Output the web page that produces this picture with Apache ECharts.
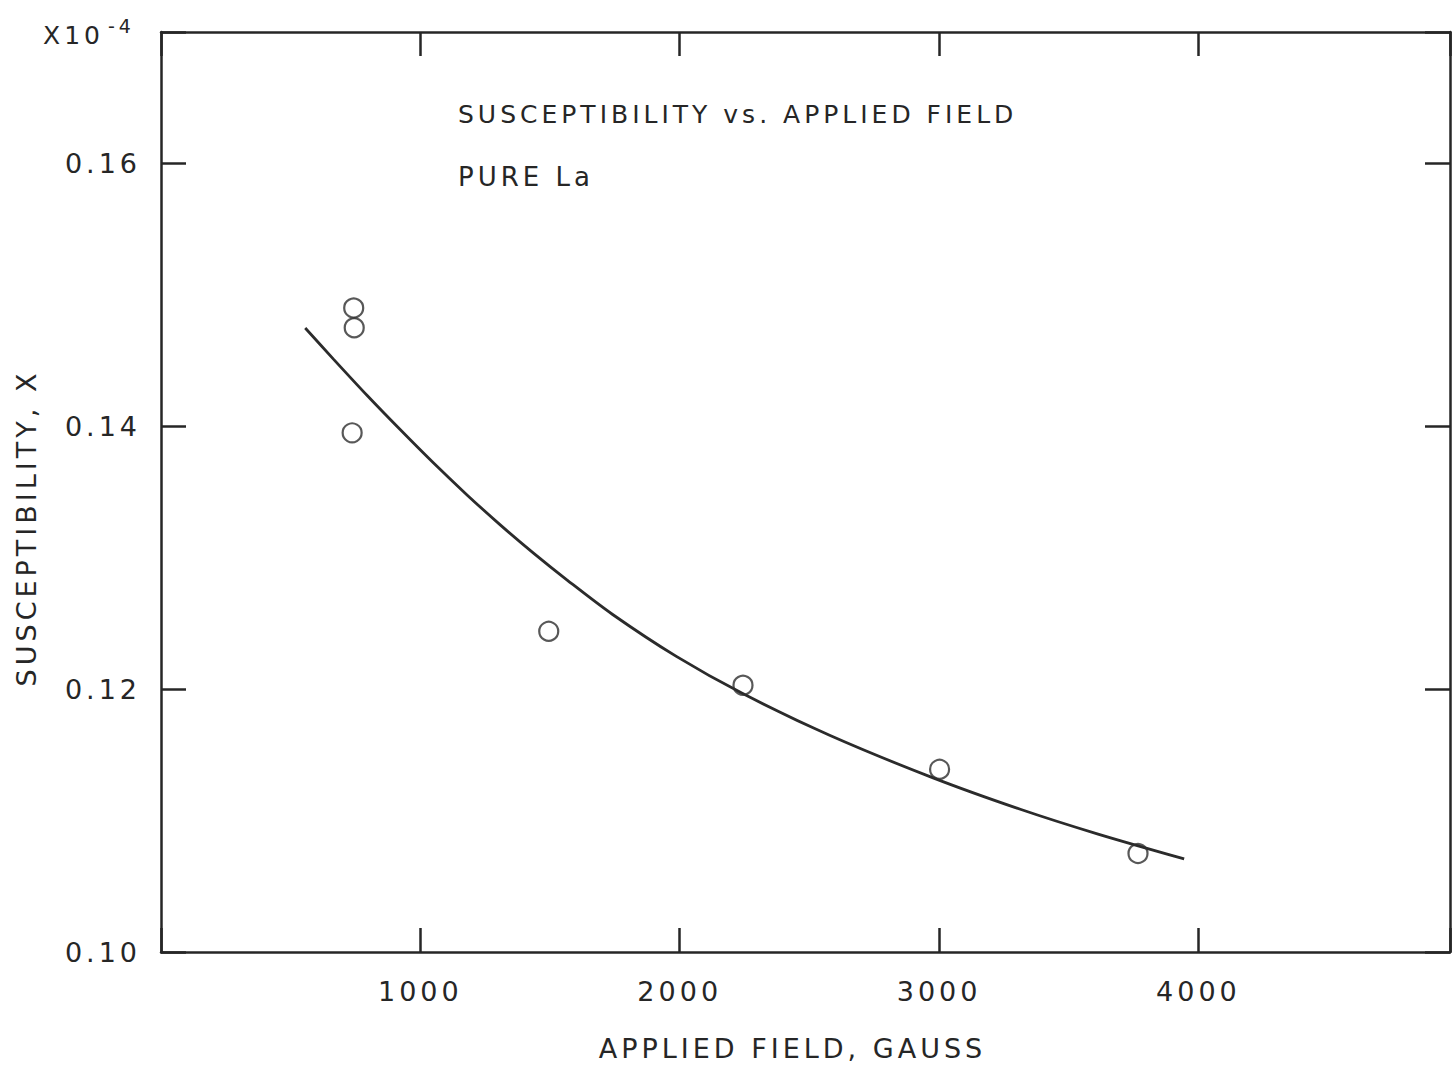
<!DOCTYPE html>
<html>
<head>
<meta charset="utf-8">
<title>Susceptibility vs. Applied Field</title>
<script src="https://cdn.jsdelivr.net/npm/echarts@6/dist/echarts.min.js"></script>
<style>
  html, body { margin: 0; padding: 0; background: #fff; }
  #chart { width: 1455px; height: 1072px; }
  /* lettering-guide look: spaced out capitals */
  #chart text { letter-spacing: 4px; }
</style>
</head>
<body>
<div id="chart"></div>
<script>
// measured points (field in gauss, susceptibility in units of 1e-4)
var fieldPts = [743, 745, 737, 1495, 2244, 3002, 3767];
var chiPts = [0.1490, 0.1475, 0.1395, 0.1244, 0.1203, 0.1139, 0.1075];

// hand drawn fit curve
var curveField = [556, 664, 795, 923, 1050, 1181, 1308, 1435, 1566, 1740, 1987, 2241, 2580, 2977, 3316, 3613, 3945];
var curveChi = [0.14748, 0.14513, 0.14234, 0.13973, 0.13722, 0.13476, 0.13250, 0.13037, 0.12830, 0.12570, 0.12249, 0.11968, 0.11647, 0.11325, 0.11084, 0.10897, 0.10708];

var xTicks = [1000, 2000, 3000, 4000];
var yTicks = ['0.10', '0.12', '0.14', '0.16'];

var ink = '#262626';
var font = 'DejaVu Sans';

var chart = echarts.init(document.getElementById('chart'), null, { renderer: 'svg' });

function xAxisCfg(pos) {
  var bottom = pos == 'bottom';
  return {
    type: 'value',
    position: pos,
    min: 0,
    max: 4970,
    interval: 1000,
    splitLine: { show: false },
    axisLine: { show: true, onZero: false, lineStyle: { color: ink, width: 2.5 } },
    axisTick: { show: true, inside: true, length: 24, lineStyle: { color: ink, width: 2.5 } },
    axisLabel: {
      show: bottom,
      margin: 26,
      color: ink,
      fontFamily: font,
      fontSize: 27,
      formatter: function (v) {
        return xTicks.indexOf(Math.round(v)) >= 0 ? String(Math.round(v)) : '';
      }
    },
    name: bottom ? 'APPLIED FIELD, GAUSS' : '',
    nameLocation: 'middle',
    nameGap: 83,
    nameTextStyle: { color: ink, fontFamily: font, fontSize: 27, padding: [0, 26, 0, 0] }
  };
}

function yAxisCfg(pos) {
  var left = pos == 'left';
  return {
    type: 'value',
    position: pos,
    min: 0.10,
    max: 0.17,
    interval: 0.02,
    splitLine: { show: false },
    axisLine: { show: true, onZero: false, lineStyle: { color: ink, width: 2.5 } },
    axisTick: { show: true, inside: true, length: 25, lineStyle: { color: ink, width: 2.5 } },
    axisLabel: {
      show: left,
      margin: 20,
      color: ink,
      fontFamily: font,
      fontSize: 27,
      formatter: function (v) {
        var s = v.toFixed(2);
        return yTicks.indexOf(s) >= 0 ? s : '';
      }
    }
  };
}

var curveData = curveField.map(function (f, i) { return [f, curveChi[i]]; });
var pointData = fieldPts.map(function (f, i) { return [f, chiPts[i]]; });

chart.setOption({
  animation: false,
  backgroundColor: '#fff',
  grid: { left: 161, right: 5, top: 32, bottom: 120 },
  xAxis: [xAxisCfg('bottom'), xAxisCfg('top')],
  yAxis: [yAxisCfg('left'), yAxisCfg('right')],
  graphic: [
    { type: 'text', x: 43, y: 35, style: { text: 'X10', fill: ink, font: '25px ' + font, textVerticalAlign: 'middle' } },
    { type: 'text', x: 108, y: 26, style: { text: '-4', fill: ink, font: '19px ' + font, textVerticalAlign: 'middle' } },
    { type: 'text', x: 458, y: 114, style: { text: 'SUSCEPTIBILITY vs. APPLIED FIELD', fill: ink, font: '25px ' + font, textVerticalAlign: 'middle' } },
    { type: 'text', x: 458, y: 177, style: { text: 'PURE La', fill: ink, font: '26px ' + font, textVerticalAlign: 'middle' } },
    { type: 'text', x: 26, y: 528, rotation: Math.PI / 2, style: { text: 'SUSCEPTIBILITY, X', fill: ink, font: '27px ' + font, textAlign: 'center', textVerticalAlign: 'middle' } }
  ],
  series: [
    {
      type: 'line',
      data: curveData,
      smooth: 0.3,
      showSymbol: false,
      lineStyle: { color: '#2b2b2b', width: 2.8 },
      z: 2
    },
    {
      type: 'scatter',
      data: pointData,
      symbol: 'circle',
      symbolSize: 19,
      itemStyle: { color: 'rgba(255,255,255,0)', borderColor: '#2e2e2e', borderWidth: 2.2 },
      z: 3
    }
  ]
});
</script>
</body>
</html>
